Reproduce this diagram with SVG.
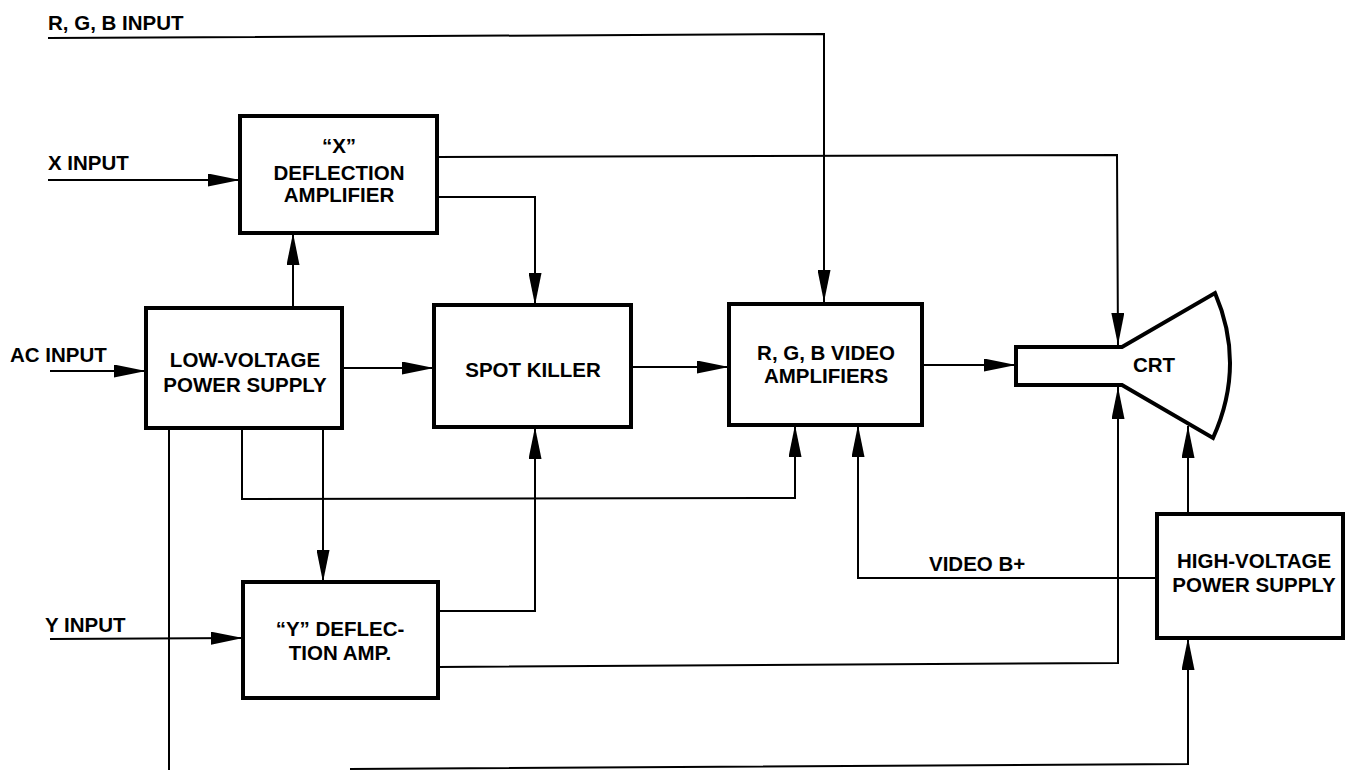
<svg xmlns="http://www.w3.org/2000/svg" width="1345" height="770" viewBox="0 0 1345 770">
<style>
.box{fill:#fff;stroke:#000;stroke-width:4}
.ln{fill:none;stroke:#000;stroke-width:2}
.t{font-family:"Liberation Sans",Arial,sans-serif;font-weight:bold;font-size:20.5px;fill:#000}
.c{text-anchor:middle}
</style>
<defs>
<marker id="ah" markerUnits="userSpaceOnUse" markerWidth="32" markerHeight="13" viewBox="0 0 32 13" refX="32" refY="6.5" orient="auto">
<path d="M0 0 L32 6.5 L0 13 Z" fill="#000"/>
</marker>
</defs>
<rect width="1345" height="770" fill="#fff"/>
<g id="connectors">
<path class="ln" d="M48 38 L824 34 L824 302" marker-end="url(#ah)"/>
<path class="ln" d="M48 180 L240 180" marker-end="url(#ah)"/>
<path class="ln" d="M437 157 L1117 155 L1118 345" marker-end="url(#ah)"/>
<path class="ln" d="M437 197 L535 197 L535 305" marker-end="url(#ah)"/>
<path class="ln" d="M293 308 L293 233" marker-end="url(#ah)"/>
<path class="ln" d="M50 371 L146 371" marker-end="url(#ah)"/>
<path class="ln" d="M342 368 L434 368" marker-end="url(#ah)"/>
<path class="ln" d="M631 367 L729 367" marker-end="url(#ah)"/>
<path class="ln" d="M922 365 L1016 365" marker-end="url(#ah)"/>
<path class="ln" d="M169 428 L169 770"/>
<path class="ln" d="M350 769 L1188 764 L1188 638" marker-end="url(#ah)"/>
<path class="ln" d="M242 428 L242 499 L795 498 L795 425" marker-end="url(#ah)"/>
<path class="ln" d="M323 428 L323 582" marker-end="url(#ah)"/>
<path class="ln" d="M438 611 L535 611 L535 427" marker-end="url(#ah)"/>
<path class="ln" d="M438 667 L1118 663 L1118 387" marker-end="url(#ah)"/>
<path class="ln" d="M1157 578 L858 578 L858 425" marker-end="url(#ah)"/>
<path class="ln" d="M1188 514 L1188 426" marker-end="url(#ah)"/>
<path class="ln" d="M50 639 L243 638" marker-end="url(#ah)"/>
</g>
<g id="labels">
<text class="t" x="48" y="30">R, G, B INPUT</text>
<text class="t" x="48" y="170">X INPUT</text>
<text class="t" x="10" y="362">AC INPUT</text>
<text class="t" x="45" y="632">Y INPUT</text>
<text class="t" x="929" y="571">VIDEO B+</text>
</g>
<g id="x-deflection">
<rect class="box" x="240" y="116" width="197" height="117"/>
<text class="t c" x="339" y="153">“X”</text>
<text class="t c" x="339" y="180">DEFLECTION</text>
<text class="t c" x="339" y="202">AMPLIFIER</text>
</g>
<g id="low-voltage">
<rect class="box" x="146" y="308" width="196" height="120"/>
<text class="t c" x="245" y="367">LOW-VOLTAGE</text>
<text class="t c" x="245" y="392">POWER SUPPLY</text>
</g>
<g id="spot-killer">
<rect class="box" x="434" y="305" width="197" height="122"/>
<text class="t c" x="533" y="377">SPOT KILLER</text>
</g>
<g id="rgb-video">
<rect class="box" x="729" y="304" width="193" height="121"/>
<text class="t c" x="826" y="360">R, G, B VIDEO</text>
<text class="t c" x="826" y="383">AMPLIFIERS</text>
</g>
<g id="crt">
<path d="M1122 347 L1016 347 L1016 385 L1122 385 L1213 438 Q1246 365 1215 293 Z" fill="#fff" stroke="#000" stroke-width="4" stroke-linejoin="miter"/>
<text class="t" x="1133" y="372">CRT</text>
</g>
<g id="y-deflection">
<rect class="box" x="243" y="582" width="195" height="116"/>
<text class="t c" x="340" y="636">“Y” DEFLEC-</text>
<text class="t c" x="340" y="660">TION AMP.</text>
</g>
<g id="high-voltage">
<rect class="box" x="1157" y="514" width="186" height="124"/>
<text class="t c" x="1254" y="568">HIGH-VOLTAGE</text>
<text class="t c" x="1254" y="592">POWER SUPPLY</text>
</g>
</svg>
